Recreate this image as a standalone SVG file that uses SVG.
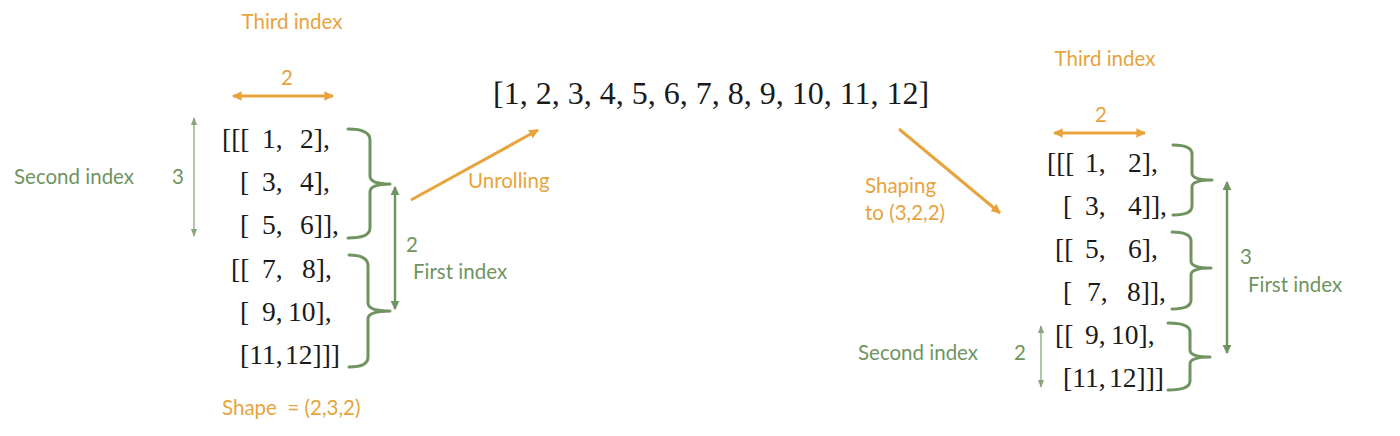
<svg xmlns="http://www.w3.org/2000/svg" width="1400" height="436" viewBox="0 0 1400 436">
<defs>
<style>
.lbl{font-family:Lato,"Open Sans","Liberation Sans",sans-serif;font-size:20.5px}
.org{fill:#E8A33D}
.grn{fill:#6F9461}
.math{font-family:"Liberation Serif","DejaVu Serif",serif;font-size:27.5px;fill:#1a1a1a}
.flat{font-family:"Liberation Serif","DejaVu Serif",serif;font-size:32px;fill:#1a1a1a}
.brace{fill:none;stroke:#6F9461;stroke-width:3;stroke-linecap:round;stroke-linejoin:round}
.oarr{fill:none;stroke:#E8A33D;stroke-width:3}
.garr{fill:none;stroke:#6F9461;stroke-width:2.5}
.tarr{fill:none;stroke:#88A67E;stroke-width:1.3}
</style>
<marker id="mo" viewBox="0 0 10 10" refX="9" refY="5" markerWidth="3.2" markerHeight="3.2" orient="auto-start-reverse" markerUnits="strokeWidth"><path d="M0,0 L10,5 L0,10 Z" fill="#E8A33D"/></marker>
<marker id="mg" viewBox="0 0 10 10" refX="9" refY="5" markerWidth="3.6" markerHeight="3.6" orient="auto-start-reverse" markerUnits="strokeWidth"><path d="M0,0 L10,5 L0,10 Z" fill="#6F9461"/></marker>
<marker id="mt" viewBox="0 0 10 10" refX="9" refY="5" markerWidth="6" markerHeight="6" orient="auto-start-reverse" markerUnits="strokeWidth"><path d="M0,1 L10,5 L0,9 Z" fill="#88A67E"/></marker>
</defs>
<rect width="1400" height="436" fill="#ffffff"/>

<g id="left-tensor">
<text class="lbl org" x="292" y="29" text-anchor="middle">Third index</text>
<text class="lbl org" x="287" y="85" text-anchor="middle">2</text>
<text class="lbl grn" x="14" y="184" fill="#7A9D6E">Second index</text>
<text class="lbl grn" x="178" y="184" text-anchor="middle">3</text>
<text class="lbl grn" x="406" y="252">2</text>
<text class="lbl grn" x="413" y="279">First index</text>
<text class="lbl org" x="222" y="415">Shape&#160; = (2,3,2)</text>
<text class="math" y="148"><tspan x="222">[[[</tspan><tspan x="262">1,</tspan><tspan x="300">2],</tspan></text>
<text class="math" y="191"><tspan x="240">[</tspan><tspan x="262">3,</tspan><tspan x="300">4],</tspan></text>
<text class="math" y="234"><tspan x="240">[</tspan><tspan x="262">5,</tspan><tspan x="300">6]],</tspan></text>
<text class="math" y="278"><tspan x="231">[[</tspan><tspan x="262">7,</tspan><tspan x="302">8],</tspan></text>
<text class="math" y="321"><tspan x="240">[</tspan><tspan x="262">9,</tspan><tspan x="288">10],</tspan></text>
<text class="math" y="364"><tspan x="240">[11,</tspan><tspan x="285">12]]]</tspan></text>
<path class="brace" d="M348,129 Q370,129 370,140 L370,176 Q370,184 390,184 Q370,184 370,192 L370,228 Q370,238 348,238"/>
<path class="brace" d="M349,255 Q368,255 368,266 L368,303 Q368,311 390,311 Q368,311 368,319 L368,357 Q368,367 349,367"/>
</g>

<g id="flat-list">
<text class="flat" x="493" y="104">[1, 2, 3, 4, 5, 6, 7, 8, 9, 10, 11, 12]</text>
<text class="lbl org" x="468" y="188">Unrolling</text>
<text class="lbl org" x="865" y="193">Shaping</text>
<text class="lbl org" x="865" y="220">to (3,2,2)</text>
</g>

<g id="right-tensor">
<text class="lbl org" x="1105" y="66" text-anchor="middle">Third index</text>
<text class="lbl org" x="1101" y="122" text-anchor="middle">2</text>
<text class="lbl grn" x="1240" y="264">3</text>
<text class="lbl grn" x="1248" y="292">First index</text>
<text class="lbl grn" x="858" y="360" fill="#7A9D6E">Second index</text>
<text class="lbl grn" x="1020" y="360" text-anchor="middle">2</text>
<text class="math" y="172"><tspan x="1047">[[[</tspan><tspan x="1085">1,</tspan><tspan x="1128">2],</tspan></text>
<text class="math" y="215"><tspan x="1063">[</tspan><tspan x="1085">3,</tspan><tspan x="1128">4]],</tspan></text>
<text class="math" y="258"><tspan x="1055">[[</tspan><tspan x="1085">5,</tspan><tspan x="1128">6],</tspan></text>
<text class="math" y="301"><tspan x="1063">[</tspan><tspan x="1087">7,</tspan><tspan x="1127">8]],</tspan></text>
<text class="math" y="344"><tspan x="1055">[[</tspan><tspan x="1085">9,</tspan><tspan x="1111">10],</tspan></text>
<text class="math" y="387"><tspan x="1063">[11,</tspan><tspan x="1109">12]]]</tspan></text>
<path class="brace" d="M1173,145 Q1192,145 1192,154 L1192,173 Q1192,180 1212,180 Q1192,180 1192,187 L1192,206 Q1192,215 1173,215"/>
<path class="brace" d="M1172,232 Q1191,232 1191,241 L1191,261 Q1191,268 1211,268 Q1191,268 1191,275 L1191,300 Q1191,309 1172,309"/>
<path class="brace" d="M1168,323 Q1190,323 1190,332 L1190,350 Q1190,357 1210,357 Q1190,357 1190,364 L1190,381 Q1190,390 1168,390"/>
</g>

<g id="connectors">
<line class="oarr" x1="233" y1="96" x2="333" y2="96" marker-start="url(#mo)" marker-end="url(#mo)"/>
<line class="tarr" x1="194" y1="118" x2="194" y2="236" marker-start="url(#mt)" marker-end="url(#mt)"/>
<line class="garr" x1="395" y1="187" x2="395" y2="309" marker-start="url(#mg)" marker-end="url(#mg)"/>
<line class="oarr" x1="411" y1="200" x2="538" y2="130" marker-end="url(#mo)"/>
<line class="oarr" x1="899" y1="129" x2="1000" y2="213" marker-end="url(#mo)"/>
<line class="oarr" x1="1054" y1="133" x2="1145" y2="133" marker-start="url(#mo)" marker-end="url(#mo)"/>
<line class="garr" x1="1227" y1="182" x2="1227" y2="353" marker-start="url(#mg)" marker-end="url(#mg)"/>
<line class="tarr" x1="1041" y1="326" x2="1041" y2="387" marker-start="url(#mt)" marker-end="url(#mt)"/>
</g>
</svg>
